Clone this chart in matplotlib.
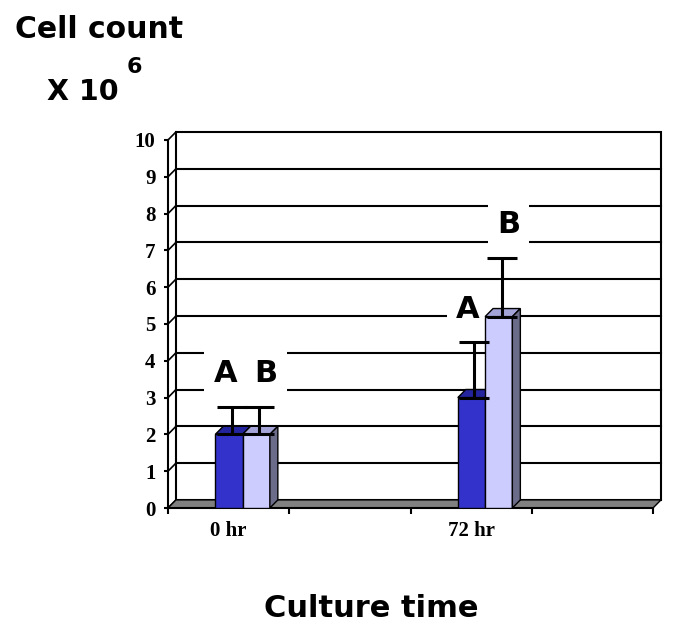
# Cell count over culture time, 3D-style bar chart in the Excel look
import numpy as np
import matplotlib.pyplot as plt
from matplotlib.patches import Polygon, Rectangle

# data
categories = ["0 hr", "", "72 hr", ""]
series_a = [2.0, np.nan, 3.0, np.nan]
series_b = [2.0, np.nan, 5.2, np.nan]
err_a = [0.75, np.nan, 1.5, np.nan]
err_b = [0.75, np.nan, 1.6, np.nan]
letters_a = ["A", "", "A", ""]
letters_b = ["B", "", "B", ""]
y_ticks = list(range(0, 11))

# style
blue, blue_top = "#3333cc", "#24249e"
light, light_top = "#ccccff", "#a4a4d8"
side_col = "#6b6b8a"
floor_col = "#808080"
dx, dy = 0.066, 0.22      # depth offset (data units)
width = 0.225
off_a, off_b = -0.11, 0.115

fig = plt.figure(figsize=(6.85, 6.42), dpi=100)
ax = fig.add_axes([168 / 685, 1 - 508 / 642, 485 / 685, 368 / 642])
ax.set_xlim(-0.5, 3.5)
ax.set_ylim(0, 10)
ax.patch.set_visible(False)

x0, x1 = ax.get_xlim()

# back wall and its gridlines
ax.add_patch(Rectangle((x0 + dx, dy), x1 - x0, y_ticks[-1], facecolor="white",
                       edgecolor="black", lw=1.5, clip_on=False, zorder=0.5))
for v in y_ticks[1:-1]:
    ax.plot([x0 + dx, x1 + dx], [v + dy, v + dy], color="black", lw=1.5,
            clip_on=False, zorder=1)
# left wall connectors
for v in y_ticks:
    ax.plot([x0, x0 + dx], [v, v + dy], color="black", lw=1.2,
            clip_on=False, zorder=1)
# floor
ax.add_patch(Polygon([(x0, 0), (x1, 0), (x1 + dx, dy), (x0 + dx, dy)],
                     closed=True, facecolor=floor_col, edgecolor="black",
                     lw=1, clip_on=False, zorder=1.5))

x = np.arange(len(categories))
a = np.array(series_a)
b = np.array(series_b)
ea = np.array(err_a)
eb = np.array(err_b)

# bars, front faces + top faces (+ right side of the rear-most bar)
ax.bar(x + off_a, a, width, align="edge", color=blue, edgecolor="black",
       lw=1, zorder=3)
for xi, h in zip(x + off_a, a):
    if np.isnan(h):
        continue
    ax.add_patch(Polygon([(xi, h), (xi + width, h), (xi + width + dx, h + dy),
                          (xi + dx, h + dy)], closed=True, facecolor=blue_top,
                         edgecolor="black", lw=1, zorder=3.1))
ax.bar(x + off_b, b, width, align="edge", color=light, edgecolor="black",
       lw=1, zorder=3.2)
for xi, h in zip(x + off_b, b):
    if np.isnan(h):
        continue
    ax.add_patch(Polygon([(xi, h), (xi + width, h), (xi + width + dx, h + dy),
                          (xi + dx, h + dy)], closed=True, facecolor=light_top,
                         edgecolor="black", lw=1, zorder=3.3))
    ax.add_patch(Polygon([(xi + width, 0), (xi + width, h),
                          (xi + width + dx, h + dy), (xi + width + dx, dy)],
                         closed=True, facecolor=side_col, edgecolor="black",
                         lw=1, zorder=3.3))

# error bars (upper only)
for off, vals, errs in [(off_a, a, ea), (off_b, b, eb)]:
    m = ~np.isnan(vals)
    ax.errorbar(x[m] + off + width / 2 + 0.025, vals[m],
                yerr=[np.zeros(m.sum()), errs[m]], fmt="none", ecolor="black",
                elinewidth=2.2, capsize=11, capthick=2.2, zorder=4)

# group letters
for off, shift, vals, errs, labs in [(off_a, -0.03, a, ea, letters_a),
                                     (off_b, 0.08, b, eb, letters_b)]:
    for xi, v, e, lab in zip(x, vals, errs, labs):
        if not lab:
            continue
        ax.text(xi + off + width / 2 + shift, v + e + 0.9, lab, ha="center",
                va="center", fontsize=22, fontweight="bold",
                family="DejaVu Sans", zorder=2.5,
                bbox=dict(boxstyle="square,pad=0.3", facecolor="white",
                          edgecolor="none"))

# axes, ticks
for s in ["top", "right"]:
    ax.spines[s].set_visible(False)
for s in ["left", "bottom"]:
    ax.spines[s].set_linewidth(1.5)
    ax.spines[s].set_zorder(2)

ax.set_yticks(y_ticks)
ax.tick_params(axis="y", direction="out", length=3, width=1.5, pad=6,
               labelsize=15)
ax.set_xticks(np.arange(len(categories) + 1) - 0.5)
ax.set_xticklabels([])
ax.set_xticks(x, minor=True)
ax.set_xticklabels(categories, minor=True)
ax.tick_params(axis="x", which="major", direction="out", length=4, width=1.5)
ax.tick_params(axis="x", which="minor", length=0, pad=9, labelsize=15)
for lab in ax.get_yticklabels() + ax.get_xticklabels(minor=True):
    lab.set_fontfamily("Liberation Serif")
    lab.set_fontweight("bold")

# titles
fig.text(15 / 685, 1 - 38 / 642, "Cell count", fontsize=21.5,
         fontweight="bold", family="DejaVu Sans", va="baseline")
fig.text(47 / 685, 1 - 100 / 642, "X 10", fontsize=20.5,
         fontweight="bold", family="DejaVu Sans", va="baseline")
fig.text(127 / 685, 1 - 73 / 642, "6", fontsize=16,
         fontweight="bold", family="DejaVu Sans", va="baseline")
fig.text(371 / 685, 1 - 617 / 642, "Culture time", fontsize=22,
         fontweight="bold", family="DejaVu Sans", va="baseline", ha="center")

fig.savefig("out.png", dpi=100)
